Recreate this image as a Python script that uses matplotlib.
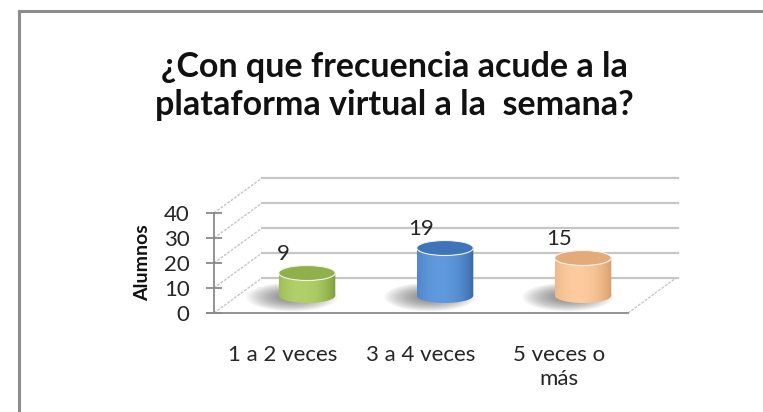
import numpy as np
import matplotlib
matplotlib.use("Agg")
import matplotlib.pyplot as plt
from matplotlib.patches import Ellipse, PathPatch
from matplotlib.path import Path
from matplotlib.lines import Line2D

plt.rcParams['font.family'] = ['Lato', 'DejaVu Sans']

categories = ["1 a 2 veces", "3 a 4 veces", "5 veces o\nmás"]
alumnos = [9, 19, 15]
yticks = [0, 10, 20, 30, 40]
title = "¿Con que frecuencia acude a la\nplataforma virtual a la  semana?"
ylabel = "Alumnos"

# body colours: (edge shade, centre highlight, top face)
colors = [
    ("#7a9a38", "#b2d06a", "#8fb04a"),
    ("#3566a6", "#6099de", "#3f74ba"),
    ("#d69a66", "#fdcb9f", "#e3ab7a"),
]

W, H = 763, 412
fig = plt.figure(figsize=(W / 100, H / 100), dpi=100)

# front plane of the 3d box, in pixels
x0, x1, ytop, ybot = 214, 628, 213, 313
ax = fig.add_axes([x0 / W, 1 - ybot / H, (x1 - x0) / W, (ybot - ytop) / H])
ax.set_xlim(0, 3)
ax.set_ylim(0, 40)

# depth offset of the back wall, in data units
ddx = 48 / 138
ddy = 14.0

grid_c = "#c6c6c6"
axis_c = "#8a8a8a"
text_c = "#262626"

# back wall gridlines + side wall diagonals
for v in yticks:
    ax.add_line(Line2D([ddx, 3 + ddx + 0.015], [v + ddy, v + ddy], color=grid_c,
                       lw=1.6, clip_on=False, zorder=1))
    ax.add_line(Line2D([0, ddx], [v, v + ddy], color=grid_c, lw=1.0,
                       ls=(0, (2, 1)), clip_on=False, zorder=1))
# floor edges
ax.add_line(Line2D([3, 3 + ddx], [0, ddy], color=grid_c, lw=1.0,
                   ls=(0, (2, 1)), clip_on=False, zorder=1))
ax.add_line(Line2D([-0.05, 3], [0, 0], color=axis_c, lw=1.3, clip_on=False, zorder=2))

for s in ax.spines.values():
    s.set_visible(False)
ax.add_line(Line2D([0, 0], [0, 40], color=axis_c, lw=1.3, clip_on=False, zorder=2))

ax.set_yticks(yticks)
ax.tick_params(axis='y', direction='inout', length=11, width=1.3, color=axis_c,
               labelsize=16, pad=12, labelcolor=text_c)
ax.set_xticks([0.5, 1.5, 2.5])
ax.set_xticklabels(categories, fontsize=16, color=text_c, va='top',
                   linespacing=1.25)
ax.tick_params(axis='x', length=0, pad=23)
ax.set_ylabel(ylabel, fontsize=14, fontweight='bold', labelpad=9, color="#111111")
ax.patch.set_visible(False)

# cylinders
cw = 0.41      # cylinder width (categories)
eh = 6.0       # ellipse height (value units)
theta = np.linspace(0, np.pi, 60)
for i, v in enumerate(alumnos):
    cx = i + 0.5 + ddx / 2
    by = ddy / 2
    edge, mid, top = colors[i]

    # soft shadow on the floor, pushed to the left
    for k in range(14):
        sc = 1 - k / 16
        ax.add_patch(Ellipse((cx - 0.11, by - 0.6), cw * 1.6 * sc, eh * 1.9 * sc,
                             color="#444444", alpha=0.06, lw=0, clip_on=False,
                             zorder=3))

    # body outline: sides plus bottom half ellipse
    bxb = cx - (cw / 2) * np.cos(theta)
    byb = by - (eh / 2) * np.sin(theta)
    verts = [(cx - cw / 2, by + v)] + list(zip(bxb, byb)) + [(cx + cw / 2, by + v), (cx - cw / 2, by + v)]
    body = PathPatch(Path(verts), facecolor='none', edgecolor='none', clip_on=False, zorder=4)
    ax.add_patch(body)

    # horizontal shading across the body
    t = np.linspace(-1, 1, 200)
    prof = np.clip(1 - ((t + 0.2) / 1.2) ** 2, 0, 1) ** 0.8
    c_edge = np.array(matplotlib.colors.to_rgb(edge))
    c_mid = np.array(matplotlib.colors.to_rgb(mid))
    img = c_edge[None, :] + (c_mid - c_edge)[None, :] * prof[:, None]
    im = ax.imshow(img[None, :, :], extent=(cx - cw / 2, cx + cw / 2, by - eh / 2, by + v),
                   aspect='auto', zorder=4, interpolation='bilinear')
    im.set_clip_path(body)

    # top face
    ax.add_patch(Ellipse((cx, by + v), cw, eh, facecolor=top, edgecolor="#f4f4ee",
                         lw=0.8, clip_on=False, zorder=5))

    # value label
    ax.annotate(str(v), (i + 0.5, by + v), xytext=(0, 14), textcoords='offset points',
                ha='center', va='center', fontsize=16, color=text_c)

ax.set_xlim(0, 3)
ax.set_ylim(0, 40)

fig.text(394 / W, 1 - 86 / H, title, ha='center', va='center', fontsize=24.5,
         fontweight='bold', color="#111111", linespacing=1.22)

# chart frame (top and left edges)
fig.add_artist(Line2D([19 / W, 1], [1 - 11 / H, 1 - 11 / H], color="#8c8c8c", lw=2.2,
                      transform=fig.transFigure))
fig.add_artist(Line2D([19 / W, 19 / W], [0, 1 - 11 / H], color="#8c8c8c", lw=2.2,
                      transform=fig.transFigure))

fig.savefig("out.png", dpi=100)
